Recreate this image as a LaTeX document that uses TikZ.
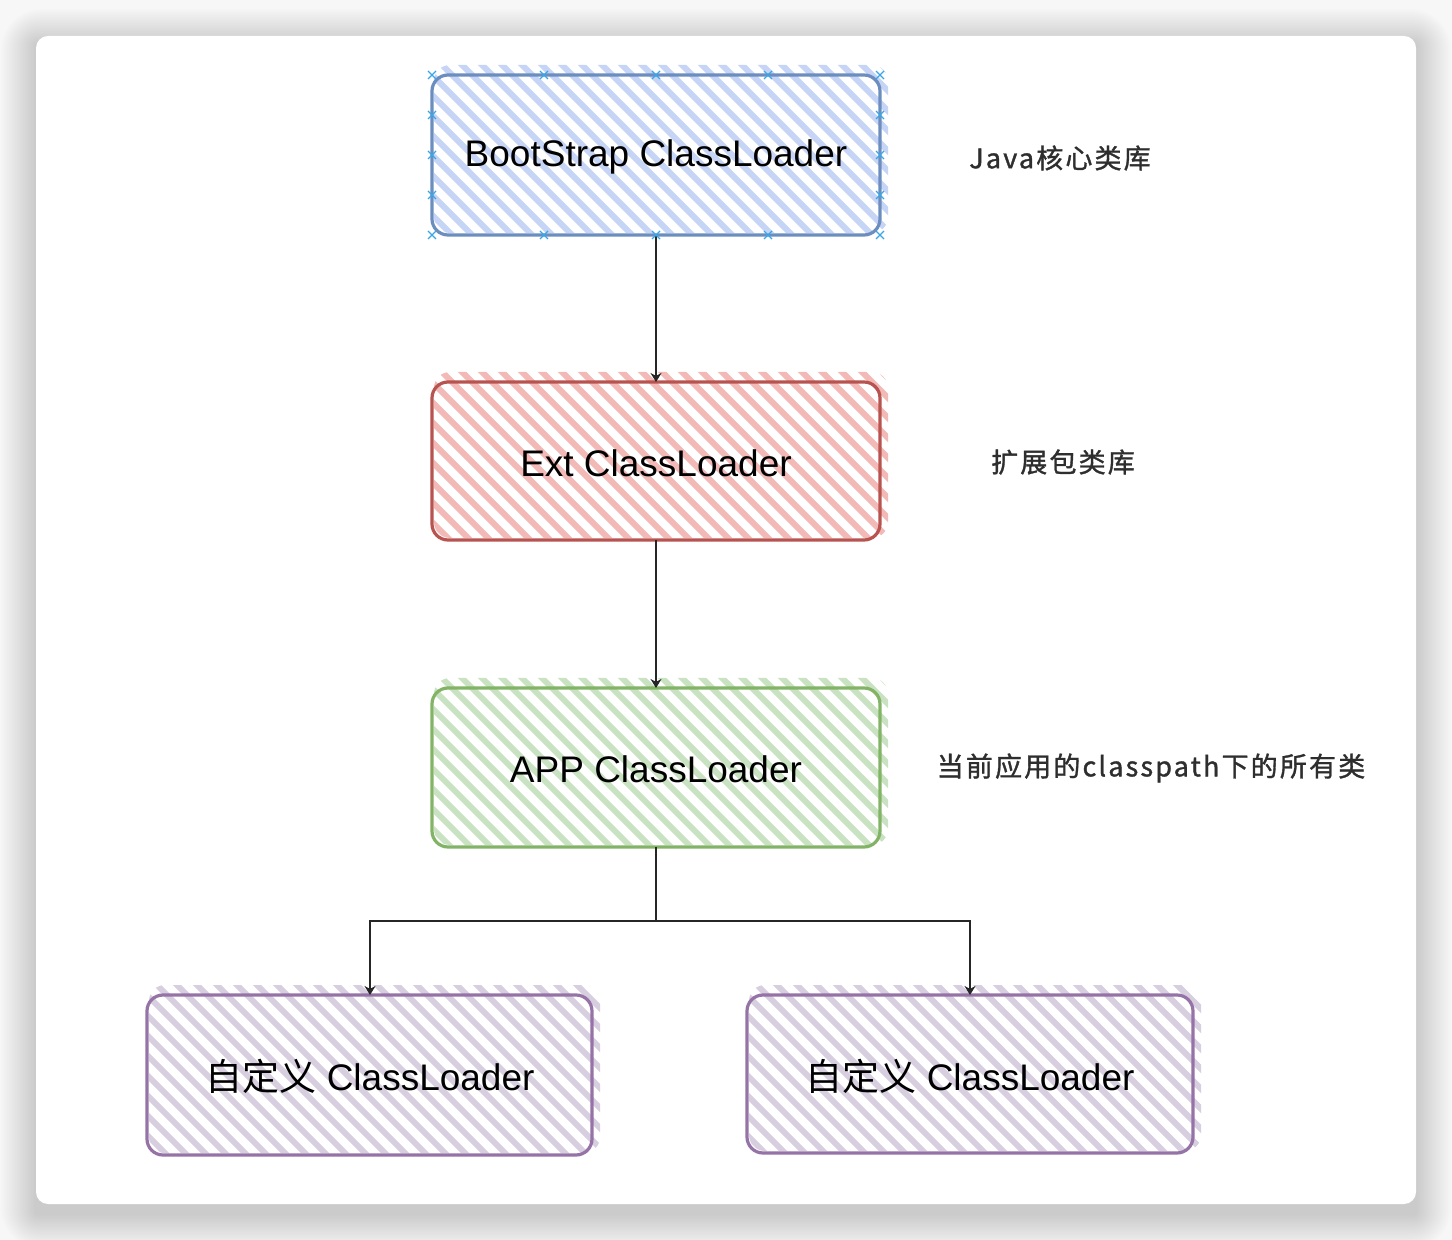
\documentclass[tikz,border=0pt]{standalone}
\usepackage{fontspec}
\setmainfont{Liberation Sans}
\newfontfamily\cjk{Noto Sans CJK SC}
\newfontfamily\cjklab{Noto Sans CJK SC}[LetterSpace=8, FakeBold=1.2]
\usetikzlibrary{arrows.meta}
\definecolor{bstroke}{HTML}{6C8EBF}\definecolor{bhatch}{HTML}{C6D4F6}
\definecolor{rstroke}{HTML}{B85450}\definecolor{rhatch}{HTML}{F2B9B7}
\definecolor{gstroke}{HTML}{82B366}\definecolor{ghatch}{HTML}{C9E3C2}
\definecolor{pstroke}{HTML}{9673A6}\definecolor{phatch}{HTML}{D7CEE0}
\definecolor{selx}{HTML}{3AA6E8}
\definecolor{labtxt}{HTML}{2E2E2E}
\tikzset{
  boxline/.style={line width=1.6pt, rounded corners=8pt},
  hatchline/.style={line width=3pt},
  conn/.style={line width=0.9pt, black!85},
  arr/.style={conn, -{Stealth[length=4.5pt,width=5.5pt]}},
  boxtext/.style={font=\fontsize{18.5}{22}\selectfont, text=black, inner sep=0pt},
  sidelab/.style={font=\cjklab\fontsize{13.5}{16}\selectfont, text=labtxt, inner sep=0pt},
  selmark/.style={selx, line width=0.6pt},
}
\newcommand\hatchbox[5]{%
  \begin{scope}
    \clip[rounded corners=8pt] (#1+2,#2-10) rectangle (#3+8,#4-2);
    \foreach \k in {-200,-180,...,500}{
      \draw[hatchline,#5] (#1+\k,#2-20) -- ++(220,220);
    }
  \end{scope}
}
\newcommand\selx[2]{\draw[selmark] (#1-4,#2-4) -- (#1+4,#2+4) (#1-4,#2+4) -- (#1+4,#2-4);}
\begin{document}
\begin{tikzpicture}[x=0.5pt,y=-0.5pt]
\useasboundingbox (0,0) rectangle (1452,1240);
\fill[white!97!black] (0,0) rectangle (1452,1240);
% shadow
\foreach \i in {1,...,22}{
  \fill[black, opacity=0.009, rounded corners={(24-\i)*0.9pt}] ({36-(23-\i)*1.6},{44-(23-\i)*1.6}) rectangle ({1416+(23-\i)*1.6},{1214+(23-\i)*1.6});
}
\fill[white, rounded corners=6pt] (36,36) rectangle (1416,1204);

% hatches
\hatchbox{432}{75}{880}{235}{bhatch}
\hatchbox{432}{382}{880}{540}{rhatch}
\hatchbox{432}{688}{880}{847}{ghatch}
\hatchbox{147}{995}{592}{1155}{phatch}
\hatchbox{747}{995}{1193}{1153}{phatch}

% boxes
\draw[boxline,bstroke] (432,75) rectangle (880,235);
\draw[boxline,rstroke] (432,382) rectangle (880,540);
\draw[boxline,gstroke] (432,688) rectangle (880,847);
\draw[boxline,pstroke] (147,995) rectangle (592,1155);
\draw[boxline,pstroke] (747,995) rectangle (1193,1153);

\node[boxtext] (boot) at (656,157) {BootStrap ClassLoader};
\node[boxtext] (ext) at (656,463) {Ext ClassLoader};
\node[boxtext] (app) at (656,769) {APP ClassLoader};
\node[boxtext] (c1) at (370,1076) {{\cjk 自定义} ClassLoader};
\node[boxtext] (c2) at (970,1076) {{\cjk 自定义} ClassLoader};

\coordinate (bootb) at (656,235);
\coordinate (extt) at (656,382);
\coordinate (extb) at (656,540);
\coordinate (appt) at (656,688);
\coordinate (appb) at (656,847);
\coordinate (c1t) at (370,995);
\coordinate (c2t) at (970,995);
\coordinate (split) at (656,921);

\draw[arr] (bootb) -- (extt);
\draw[arr] (extb) -- (appt);
\draw[conn] (appb) -- (split);
\draw[arr] (split) -| (c1t);
\draw[arr] (split) -| (c2t);

% selection markers
\foreach \x in {432,544,656,768,880}{\selx{\x}{75}\selx{\x}{235}}
\foreach \y in {115,155,195}{\selx{432}{\y}\selx{880}{\y}}

\node[sidelab] (l1) at (1060,158) {Java核心类库};
\node[sidelab] (l2) at (1063,462) {扩展包类库};
\node[sidelab] (l3) at (1151,768) {当前应用的classpath下的所有类};
\end{tikzpicture}
\end{document}
